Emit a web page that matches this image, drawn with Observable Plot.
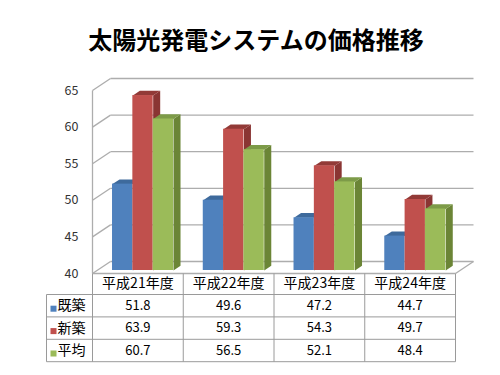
<!DOCTYPE html>
<html><head><meta charset="utf-8">
<script src="https://cdn.jsdelivr.net/npm/d3@7"></script>
<script src="https://cdn.jsdelivr.net/npm/@observablehq/plot@0.6"></script>
<style>
body{margin:0;background:#fff;font-family:"Noto Sans CJK JP",sans-serif;}
#title{height:62px;box-sizing:border-box;padding-top:26px;padding-left:12px;text-align:center;font-size:24px;font-weight:bold;line-height:26px;color:#000;white-space:nowrap;}
#chart svg{display:block;}
</style></head><body>
<div id="title">太陽光発電システムの価格推移</div>
<div id="chart"></div>
<script>
// ---- data ----
const categories = ["平成21年度", "平成22年度", "平成23年度", "平成24年度"];
const seriesNames = ["既築", "新築", "平均"];
const kichiku = [51.8, 49.6, 47.2, 44.7];
const shinchiku = [63.9, 59.3, 54.3, 49.7];
const heikin = [60.7, 56.5, 52.1, 48.4];
const yTicks = [40, 45, 50, 55, 60, 65];

const seriesValues = [kichiku, shinchiku, heikin];
const frontColors = ["#4F81BD", "#C0504D", "#9BBB59"];
const sideColors = ["#385D8A", "#8A3533", "#6B8536"];
const topColors = ["#3E6A9C", "#923A37", "#7D9B48"];

// ---- layout ----
const W = 500, H = 313, ML = 92, MR = 45, MT = 28, MB = 102;
const PXX = (W - ML - MR) / categories.length;      // px per category unit
const PXY = (H - MT - MB) / (65 - 40);               // px per value unit
const DEPTH_X = 18, DEPTH_Y = 12;                    // 3D wall depth in px
const proj = (xu, v, d) => ({x: xu + DEPTH_X * d / PXX, y: v + DEPTH_Y * d / PXY});
const below = (px) => 40 - px / PXY;                 // y value at px below the floor front
const BAR_OFF = 0.171, BAR_W = 0.224, D0 = 0.25, D1 = 0.64;
const HEADER_H = 21, ROW_H = 22.4;
const LEFT_COL = (46 - ML) / PXX;
const gridColor = "#adadad", tableColor = "#9a9a9a";

// bars
const bars = [];
seriesValues.forEach((vals, j) => vals.forEach((v, i) => {
  const x0 = i + BAR_OFF + j * BAR_W, x1 = x0 + BAR_W;
  bars.push({id: `${i}-${j}`, i, j, v, x0, x1});
}));
const poly = (b, pts) => pts.map(([x, v, d]) => ({...proj(x, v, d), id: b.id}));
const sides = j => bars.filter(b => b.j === j).flatMap(b =>
  poly(b, [[b.x1, 40, D0], [b.x1, b.v, D0], [b.x1, b.v, D1], [b.x1, 40, D1]]));
const tops = j => bars.filter(b => b.j === j).flatMap(b =>
  poly(b, [[b.x0, b.v, D0], [b.x1, b.v, D0], [b.x1, b.v, D1], [b.x0, b.v, D1]]));

// walls
const seg = (a, b) => ({x1: a.x, y1: a.y, x2: b.x, y2: b.y});
const wall = [];
yTicks.forEach(t => {
  wall.push(seg(proj(0, t, 1), proj(categories.length, t, 1)));
  wall.push(seg(proj(0, t, 0), proj(0, t, 1)));
});
wall.push(seg(proj(0, 40, 0), proj(0, 65, 0)));
wall.push(seg(proj(0, 40, 0), proj(categories.length, 40, 0)));
wall.push(seg(proj(categories.length, 40, 0), proj(categories.length, 40, 1)));

// table grid
const tbl = [];
const bottomPx = HEADER_H + seriesNames.length * ROW_H;
for (let k = 0; k <= seriesNames.length; k++) {
  const y = below(HEADER_H + k * ROW_H);
  tbl.push({x1: LEFT_COL, y1: y, x2: categories.length, y2: y});
}
for (let c = 0; c <= categories.length; c++) tbl.push({x1: c, y1: below(0), x2: c, y2: below(bottomPx)});
tbl.push({x1: LEFT_COL, y1: below(HEADER_H), x2: LEFT_COL, y2: below(bottomPx)});

const cells = [];
seriesValues.forEach((vals, j) => vals.forEach((v, i) =>
  cells.push({x: i + 0.5, y: below(HEADER_H + (j + 0.5) * ROW_H), t: v.toFixed(1)})));

const marks = [
  Plot.link(wall, {x1: "x1", y1: "y1", x2: "x2", y2: "y2", stroke: gridColor, strokeWidth: 1.3}),
  ...[0, 1, 2].map(j => Plot.line(sides(j), {x: "x", y: "y", z: "id", fill: sideColors[j], stroke: "none", curve: "linear-closed"})),
  ...[0, 1, 2].map(j => Plot.line(tops(j), {x: "x", y: "y", z: "id", fill: topColors[j], stroke: "none", curve: "linear-closed"})),
  ...[0, 1, 2].map(j => Plot.rect(bars.filter(b => b.j === j), {
    x1: b => proj(b.x0, 40, D0).x, x2: b => proj(b.x1, 40, D0).x,
    y1: b => proj(b.x0, 40, D0).y, y2: b => proj(b.x0, b.v, D0).y,
    fill: frontColors[j]})),
  Plot.axisY({ticks: yTicks, tickSize: 0, tickPadding: 14, fontSize: 12.5, color: "#333", label: null}),
  Plot.link(tbl, {x1: "x1", y1: "y1", x2: "x2", y2: "y2", stroke: tableColor, strokeWidth: 1}),
  Plot.text(categories, {x: (d, i) => i + 0.5, y: () => below(HEADER_H / 2), text: d => d, fontSize: 14, fill: "#000"}),
  Plot.text(cells, {x: "x", y: "y", text: "t", fontSize: 13, fill: "#000"}),
  Plot.text(seriesNames, {x: () => (57 - ML) / PXX, y: (d, j) => below(HEADER_H + (j + 0.5) * ROW_H), text: d => d, textAnchor: "start", fontSize: 14, fill: "#000"}),
  Plot.dot(seriesNames, {x: () => (53 - ML) / PXX, y: (d, j) => below(HEADER_H + (j + 0.5) * ROW_H), dy: 3, symbol: "square", r: 3.4, fill: (d, j) => frontColors[j], stroke: "none"})
];

const chart = Plot.plot({
  width: W, height: H,
  marginLeft: ML, marginRight: MR, marginTop: MT, marginBottom: MB,
  x: {domain: [0, categories.length], axis: null},
  y: {domain: [40, 65], axis: null},
  style: {fontFamily: '"Noto Sans CJK JP", sans-serif', background: "white", overflow: "visible"},
  marks
});
document.getElementById("chart").appendChild(chart);
</script>
</body></html>
